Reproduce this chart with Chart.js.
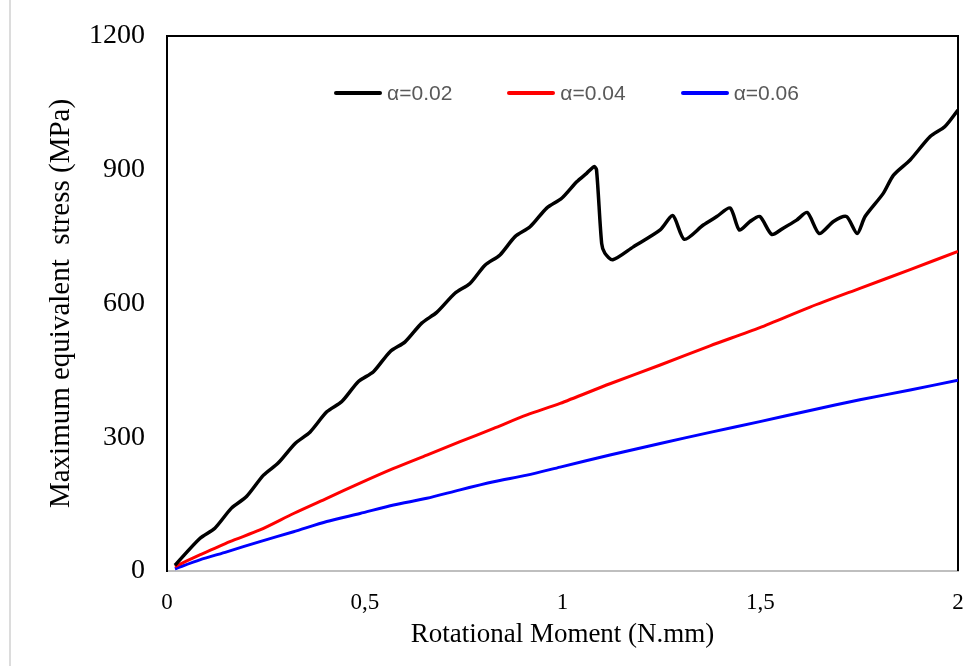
<!DOCTYPE html>
<html>
<head>
<meta charset="utf-8">
<script src="https://cdn.jsdelivr.net/npm/chart.js@4.4.1/dist/chart.umd.min.js"></script>
<style>
    body { margin: 0; background: #fff; }
    .wrap { position: relative; width: 967px; height: 666px; }
    .edge { position: absolute; left: 9px; top: 0; width: 2px; height: 666px; background: #dcdcdc; }
    .legend {
        position: absolute; left: 171px; width: 791px; top: 81px;
        display: flex; justify-content: center; gap: 55px;
        font-family: 'Liberation Sans', Arial, sans-serif; font-size: 21px; color: #595959;
    }
    .legend-item { display: flex; align-items: center; }
    .legend-line { width: 48px; height: 4px; margin-right: 5px; border-radius: 2px; }
</style>
</head>
<body>
<div class="wrap">
    <div class="edge"></div>
    <canvas id="stressChart" width="967" height="666"></canvas>
    <div class="legend" id="legend"></div>
</div>
<script>
// series labels and colours
const seriesNames = ['α=0.02', 'α=0.04', 'α=0.06'];
const seriesColors = ['#000000', '#ff0000', '#0000ff'];
const seriesWidths = [3.5, 3, 3];

// alpha = 0.02
const momentA02 = [0.02, 0.083, 0.121, 0.163, 0.201, 0.244, 0.281, 0.324, 0.362, 0.404, 0.442, 0.484,
    0.522, 0.564, 0.602, 0.644, 0.682, 0.728, 0.766, 0.804, 0.842, 0.880, 0.918, 0.960, 0.998, 1.036,
    1.061, 1.080, 1.086, 1.099, 1.107, 1.127, 1.179, 1.247, 1.279, 1.308, 1.356, 1.390, 1.424, 1.447,
    1.474, 1.499, 1.529, 1.558, 1.592, 1.619, 1.649, 1.685, 1.718, 1.745, 1.765, 1.811, 1.837, 1.879,
    1.929, 1.967, 2.0];
const stressA02 = [13, 73, 96, 141, 167, 215, 242, 286, 312, 357, 380, 425,
    447, 492, 514, 556, 580, 623, 645, 686, 709, 750, 772, 814, 836, 873,
    892, 907, 900, 735, 713, 698, 727, 765, 797, 744, 776, 795, 814, 765,
    784, 795, 755, 769, 787, 804, 757, 784, 795, 757, 795, 847, 888, 922,
    974, 997, 1034];

// alpha = 0.04
const momentA04 = [0.02, 0.083, 0.159, 0.235, 0.32, 0.404, 0.488, 0.573, 0.657, 0.741, 0.826, 0.910,
    0.994, 1.120, 1.247, 1.373, 1.499, 1.626, 1.752, 1.879, 2.0];
const stressA04 = [10, 36, 66, 92, 129, 163, 197, 230, 260, 290, 320, 350,
    376, 420, 462, 505, 546, 592, 634, 676, 717];

// alpha = 0.06
const momentA06 = [0.02, 0.083, 0.151, 0.235, 0.32, 0.404, 0.488, 0.573, 0.657, 0.741, 0.826, 0.910,
    0.994, 1.120, 1.247, 1.373, 1.499, 1.626, 1.752, 1.879, 2.0];
const stressA06 = [5, 25, 43, 66, 88, 111, 129, 148, 163, 182, 200, 215,
    233, 260, 286, 311, 335, 360, 384, 406, 428];

const xTicks = [0, 0.5, 1, 1.5, 2];
const yTicks = [0, 300, 600, 900, 1200];

function toPoints(xs, ys) {
    return xs.map((x, i) => ({ x: x, y: ys[i] }));
}

// draws the black top and right edges of the plot box
const frameBox = {
    id: 'frameBox',
    beforeDatasetsDraw(chart) {
        const { ctx, chartArea: a } = chart;
        ctx.save();
        ctx.strokeStyle = '#000';
        ctx.lineWidth = 2;
        ctx.beginPath();
        ctx.moveTo(a.left, a.top);
        ctx.lineTo(a.right, a.top);
        ctx.lineTo(a.right, a.bottom);
        ctx.stroke();
        ctx.restore();
    }
};

// keep the plot box where the reference has it: no extra room for overhanging labels
function noOverhang(scale) {
    scale.paddingLeft = 0;
    scale.paddingRight = 0;
    scale.paddingTop = 0;
    scale.paddingBottom = 0;
}

const series = [toPoints(momentA02, stressA02), toPoints(momentA04, stressA04), toPoints(momentA06, stressA06)];

new Chart(document.getElementById('stressChart'), {
    type: 'line',
    data: {
        datasets: series.map((pts, i) => ({
            label: seriesNames[i],
            data: pts,
            borderColor: seriesColors[i],
            backgroundColor: seriesColors[i],
            borderWidth: seriesWidths[i],
            pointRadius: 0,
            tension: 0.25,
            fill: false
        }))
    },
    options: {
        responsive: false,
        animation: false,
        layout: { padding: { top: 36, right: 9, left: 0, bottom: 0 } },
        plugins: {
            legend: { display: false },
            tooltip: { enabled: false }
        },
        scales: {
            x: {
                type: 'linear',
                min: 0,
                max: 2,
                afterFit: (scale) => { scale.height = 95; noOverhang(scale); },
                afterBuildTicks: (scale) => { scale.ticks = xTicks.map(v => ({ value: v })); },
                grid: { display: false, drawTicks: false },
                border: { color: '#bfbfbf', width: 2 },
                ticks: {
                    padding: 18,
                    color: '#000',
                    font: { family: 'Liberation Serif', size: 23 },
                    callback: (v) => String(v).replace('.', ',')
                },
                title: {
                    display: true,
                    text: 'Rotational Moment (N.mm)',
                    color: '#000',
                    font: { family: 'Liberation Serif', size: 27 },
                    padding: { top: 0, bottom: 15 }
                }
            },
            y: {
                min: 0,
                max: 1200,
                afterFit: (scale) => { scale.width = 167; noOverhang(scale); },
                afterBuildTicks: (scale) => { scale.ticks = yTicks.map(v => ({ value: v })); },
                grid: { display: false, drawTicks: false },
                border: { color: '#000', width: 2 },
                ticks: {
                    padding: 22,
                    color: '#000',
                    font: { family: 'Liberation Serif', size: 28 },
                    callback: (v) => String(v)
                },
                title: {
                    display: true,
                    text: 'Maximum equivalent  stress (MPa)',
                    color: '#000',
                    font: { family: 'Liberation Serif', size: 29 },
                    padding: { top: 44, bottom: 0 }
                }
            }
        }
    },
    plugins: [frameBox]
});

// legend as html, from the same names and colours
document.getElementById('legend').innerHTML = seriesNames.map((name, i) => `
    <div class="legend-item">
        <span class="legend-line" style="background:${seriesColors[i]}"></span>
        <span>${name}</span>
    </div>
`).join('');
</script>
</body>
</html>
